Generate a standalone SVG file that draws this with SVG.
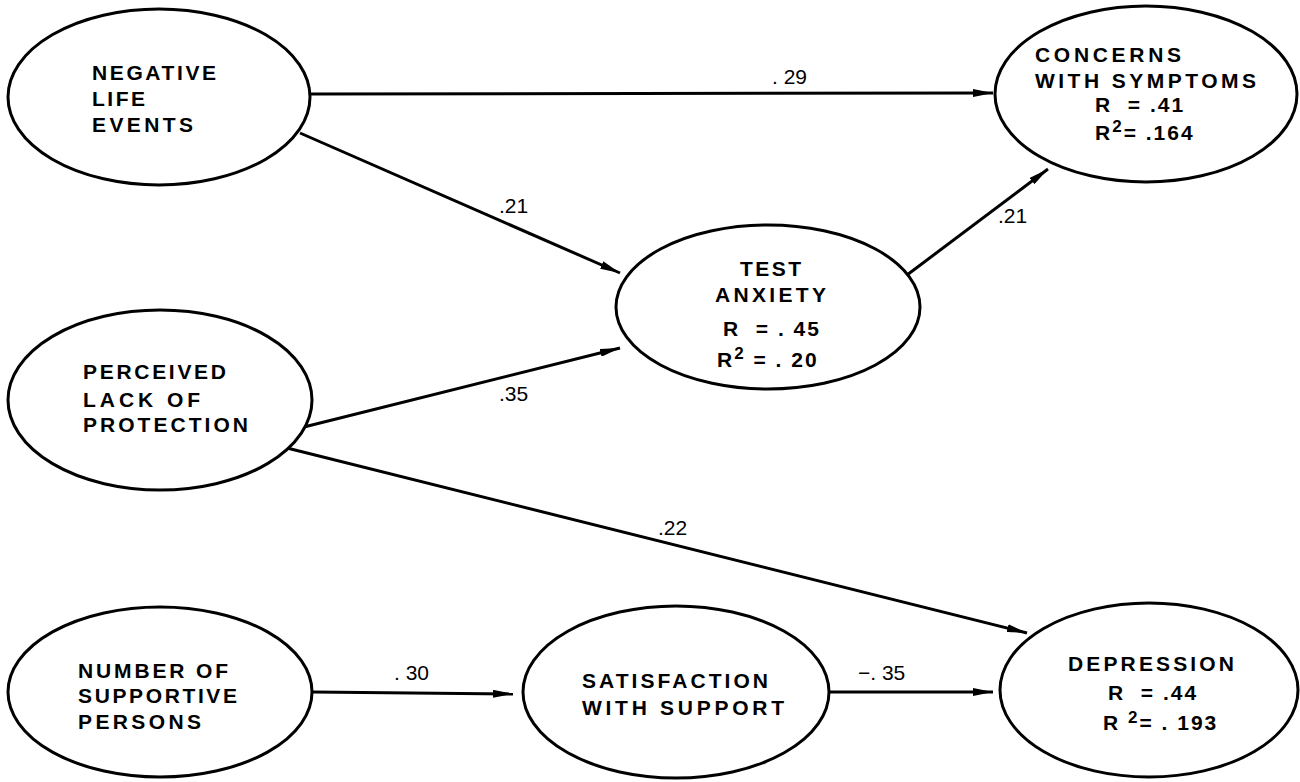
<svg xmlns="http://www.w3.org/2000/svg" width="1300" height="782" viewBox="0 0 1300 782">
<defs>
<marker id="ah" viewBox="0 0 20 8" refX="20" refY="4" markerWidth="20" markerHeight="8" markerUnits="userSpaceOnUse" orient="auto">
<path d="M0,0 L20,4 L0,8 Z" fill="#000"/>
</marker>
</defs>
<style>
.n{fill:#fff;stroke:#000;stroke-width:3}
.t{font-family:"Liberation Sans",Arial,sans-serif;font-size:21px;font-weight:bold;fill:#000;letter-spacing:2px}
.l{font-family:"Liberation Sans",Arial,sans-serif;font-size:21px;fill:#000}
.c{stroke:#000;stroke-width:3;fill:none;marker-end:url(#ah)}
.s{font-size:17px}
</style>
<rect width="1300" height="782" fill="#fff"/>
<g id="connectors">
<line class="c" x1="310" y1="94" x2="993" y2="93"/>
<line class="c" x1="300" y1="133" x2="620" y2="273"/>
<line class="c" x1="300" y1="428" x2="620" y2="348"/>
<line class="c" x1="283" y1="447" x2="1027" y2="633"/>
<line class="c" x1="907" y1="275" x2="1048" y2="169"/>
<line class="c" x1="313" y1="692" x2="513" y2="694"/>
<line class="c" x1="828" y1="692" x2="993" y2="692"/>
<text class="l" x="772" y="84" xml:space="preserve">. 29</text>
<text class="l" x="499" y="213">.21</text>
<text class="l" x="998" y="223">.21</text>
<text class="l" x="499" y="401">.35</text>
<text class="l" x="658" y="535">.22</text>
<text class="l" x="394" y="680" xml:space="preserve">. 30</text>
<text class="l" x="858" y="680" xml:space="preserve">−. 35</text>
</g>
<g id="negative-life-events">
<ellipse class="n" cx="159" cy="97" rx="151" ry="88"/>
<text class="t" x="92" y="80" textLength="126" lengthAdjust="spacing">NEGATIVE</text>
<text class="t" x="92" y="106" textLength="55" lengthAdjust="spacing">LIFE</text>
<text class="t" x="92" y="132" textLength="103" lengthAdjust="spacing">EVENTS</text>
</g>
<g id="concerns-with-symptoms">
<ellipse class="n" cx="1146" cy="94" rx="151" ry="88"/>
<text class="t" x="1035" y="62" textLength="148" lengthAdjust="spacing">CONCERNS</text>
<text class="t" x="1035" y="88" textLength="223" lengthAdjust="spacing">WITH SYMPTOMS</text>
<text class="t" x="1095" y="112" xml:space="preserve">R  = .41</text>
<text class="t" x="1095" y="140">R<tspan class="s" dy="-8">2</tspan><tspan dy="8">= .164</tspan></text>
</g>
<g id="test-anxiety">
<ellipse class="n" cx="768" cy="307" rx="152" ry="82"/>
<text class="t" x="740" y="276" textLength="63" lengthAdjust="spacing">TEST</text>
<text class="t" x="715" y="302" textLength="113" lengthAdjust="spacing">ANXIETY</text>
<text class="t" x="723" y="336" xml:space="preserve">R  = . 45</text>
<text class="t" x="717" y="367">R<tspan class="s" dy="-8">2</tspan><tspan dy="8"> = . 20</tspan></text>
</g>
<g id="perceived-lack-of-protection">
<ellipse class="n" cx="160" cy="400" rx="152" ry="90"/>
<text class="t" x="83" y="379" textLength="145" lengthAdjust="spacing">PERCEIVED</text>
<text class="t" x="83" y="407" textLength="119" lengthAdjust="spacing">LACK OF</text>
<text class="t" x="83" y="432" textLength="167" lengthAdjust="spacing">PROTECTION</text>
</g>
<g id="number-of-supportive-persons">
<ellipse class="n" cx="160" cy="692" rx="152" ry="85"/>
<text class="t" x="78" y="678" textLength="152" lengthAdjust="spacing">NUMBER OF</text>
<text class="t" x="78" y="703" textLength="161" lengthAdjust="spacing">SUPPORTIVE</text>
<text class="t" x="78" y="729" textLength="125" lengthAdjust="spacing">PERSONS</text>
</g>
<g id="satisfaction-with-support">
<ellipse class="n" cx="676" cy="692" rx="153" ry="86"/>
<text class="t" x="582" y="688" textLength="188" lengthAdjust="spacing">SATISFACTION</text>
<text class="t" x="582" y="715" textLength="204" lengthAdjust="spacing">WITH SUPPORT</text>
</g>
<g id="depression">
<ellipse class="n" cx="1149" cy="690" rx="149" ry="87"/>
<text class="t" x="1068" y="671" textLength="168" lengthAdjust="spacing">DEPRESSION</text>
<text class="t" x="1108" y="700" xml:space="preserve">R  = .44</text>
<text class="t" x="1103" y="730">R <tspan class="s" dy="-7">2</tspan><tspan dy="7">= . 193</tspan></text>
</g>
</svg>
